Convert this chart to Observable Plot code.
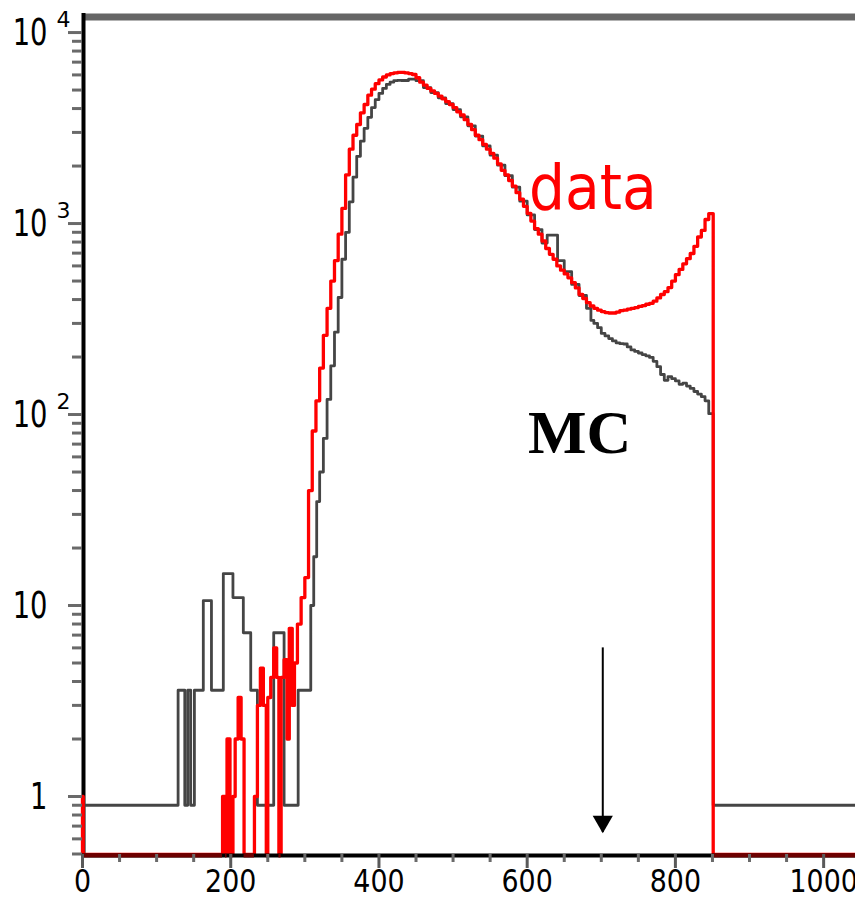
<!DOCTYPE html>
<html><head><meta charset="utf-8">
<script src="https://cdn.jsdelivr.net/npm/d3@7"></script>
<script src="https://cdn.jsdelivr.net/npm/@observablehq/plot@0.6"></script>
<style>body{margin:0;background:#fff;} svg{display:block}</style>
</head><body><div id="chart"></div>
<script>
// ---- data (histogram bin lower edges and contents) ----
const dataEdges = [0,0,1,189,193,195,199,203,206,210,214,218,232,236,240,244,248,250,254,258,262,265,268,272,276,279,283,286,290,
  295,300,305,310,315,320,325,330,335,340,345,350,355,360,365,370,375,380,385,390,395,400,405,410,415,420,425,430,435,440,445,
  450,455,460,465,470,475,480,485,490,495,500,505,510,515,520,525,530,535,540,545,550,555,560,565,570,575,580,585,590,595,
  600,605,610,615,620,625,630,635,640,645,650,655,660,665,670,675,680,685,690,695,700,705,710,715,720,725,730,735,740,745,
  750,755,760,765,770,775,780,785,790,795,800,805,810,815,820,825,830,835,840,845,851,1043];
const dataCounts = [0,1,0,1.0,0,2.0,0,1.0,2.0,3.3,2.0,0,1.0,3.0,4.7,3.0,0,3.3,4.2,6.0,4.2,0,4.2,5.2,2.0,7.6,3.0,5.0,8,
  11,14,40,82,118,175,260,360,500,640,880,1200,1800,2450,2900,3300,3800,4200,4700,5050,5400,5650,5850,6000,6100,6150,6180,6180,6150,6100,6030,
  5800,5500,5300,5100,4950,4800,4650,4500,4350,4200,4050,3850,3700,3500,3300,3100,2900,2750,2600,2450,2330,2200,2050,1900,1800,1680,1570,1450,1340,1230,
  1130,1030,940,880,810,740,690,650,600,570,545,520,490,460,425,405,385,370,360,352,346,342,340,340,344,350,352,356,360,363,
  368,372,378,382,392,408,425,440,462,500,540,575,615,655,697,760,850,920,1050,1128,0,0];

const mcEdges = [0,129,138,142,146,151,163,174,190,203,217,227,236,258,272,291,308,312,316,320,325,330,335,340,345,350,355,360,365,370,
  375,380,385,390,395,400,405,410,415,420,425,430,440,450,460,470,480,490,500,510,520,530,540,550,560,570,580,590,600,610,620,627,641,
  650,660,670,680,686,690,695,700,705,710,715,720,725,730,735,740,745,750,755,760,765,770,775,780,785,790,795,800,805,810,815,820,
  825,830,835,840,845,851,1043];
const mcCounts = [0.9,3.6,0.9,3.6,0.9,3.6,10.6,3.6,14.7,11,7.2,3.6,0.9,7.2,0.9,3.6,10,18,35,50,75,120,180,270,410,650,900,1300,1750,2250,
  2700,3150,3600,4050,4450,4800,5100,5350,5500,5600,5620,5610,5700,5600,5150,4850,4550,4250,3950,3620,3250,2870,2550,2280,2020,1780,1550,1310,1110,930,790,870,640,
  560,480,420,360,311,300,285,266,258,250,243,237,235,234,226,218,214,210,206,203,199,190,178,162,151,158,154,150,144,146,141,137,
  132,128,124,118,101,0.9,0.9];

// ---- axes ----
const xMajorTicks = [0,200,400,600,800,1000];
const xTickLabels = ["0","200","400","600","800","1000"];
const xMinorTicks = [50,100,150,250,300,350,450,500,550,650,700,750,850,900,950];
const yMajorTicks = [1,10,100,1000,10000];
const yTickBase = ["1","10","10","10","10"];
const yTickExp = ["","","2","3","4"];
const yMinorTicks = [0.5,0.6,0.7,0.8,0.9,2,3,4,5,6,7,8,9,20,30,40,50,60,70,80,90,
  200,300,400,500,600,700,800,900,2000,3000,4000,5000,6000,7000,8000,9000];
const xDomain = [0, 1043];
const yDomain = [0.497, 11990];

// ---- annotations ----
const annotationLabels = ["data", "MC"];
const annotationX = [602.6, 601.2];
const annotationY = [1198, 63.2];
const arrowX = [702];
const arrowTop = [6];
const arrowTip = [0.648];

// ---- build tables ----
const floorY = yDomain[0];
const dataPts = dataEdges.map((x, i) => ({x, y: Math.max(dataCounts[i], floorY)}));
const mcPts = mcEdges.map((x, i) => ({x, y: Math.max(mcCounts[i], floorY)}));
const floorSegs = [];
for (let i = 0; i < dataEdges.length - 1; i++) if (dataCounts[i] === 0) floorSegs.push({x1: dataEdges[i], x2: dataEdges[i + 1]});
const yLabels = yMajorTicks.map((v, i) => ({v, base: yTickBase[i], exp: yTickExp[i]}));
const xLabels = xMajorTicks.map((v, i) => ({v, t: xTickLabels[i]}));
const notes = annotationLabels.map((t, i) => ({t, x: annotationX[i], y: annotationY[i]}));
const arrows = arrowX.map((x, i) => ({x, y1: arrowTop[i], y2: arrowTip[i]}));

const chart = Plot.plot({
  width: 855, height: 898,
  marginLeft: 82, marginRight: 0, marginTop: 17, marginBottom: 44,
  style: {fontFamily: "DejaVu Sans", background: "white"},
  x: {domain: xDomain},
  y: {type: "log", domain: yDomain},
  marks: [
    Plot.ruleY([yDomain[1]], {stroke: "#666", strokeWidth: 7, dy: -0.5}),
    Plot.ruleX([xDomain[0]], {stroke: "black", strokeWidth: 4, dx: 1, insetTop: -4, insetBottom: -3}),
    Plot.line(mcPts, {x: "x", y: "y", curve: "step-after", stroke: "#454545", strokeWidth: 2.8}),
    Plot.line(dataPts, {x: "x", y: "y", curve: "step-after", stroke: "#ff0000", strokeWidth: 3.3}),
    Plot.ruleY([floorY], {stroke: "black", strokeWidth: 4, dy: 1}),
    Plot.ruleY(floorSegs, {y: () => floorY, x1: "x1", x2: "x2", stroke: "#6e0000", strokeWidth: 4, dy: 1}),
    Plot.axisY(yMajorTicks, {anchor: "left", tickSize: 14, tickFormat: () => "", stroke: "#6a6a6a", strokeWidth: 3, label: null}),
    Plot.axisY(yMinorTicks, {anchor: "left", tickSize: 10, tickFormat: () => "", stroke: "#6a6a6a", strokeWidth: 3, label: null}),
    Plot.axisX(xMajorTicks, {anchor: "bottom", tickSize: 14, tickFormat: () => "", stroke: "#5a5a5a", strokeWidth: 3, label: null}),
    Plot.axisX(xMinorTicks, {anchor: "bottom", tickSize: 8, tickFormat: () => "", stroke: "#6a6a6a", strokeWidth: 3, label: null}),
    Plot.text(yLabels, {frameAnchor: "left", y: "v", text: "base", textAnchor: "end", lineAnchor: "middle",
      dx: -35, dy: 1, fontSize: 37, fill: "black"}),
    Plot.text(yLabels, {frameAnchor: "left", y: "v", text: "exp", textAnchor: "start", lineAnchor: "middle",
      dx: -26, dy: -13, fontSize: 22, fill: "black"}),
    Plot.text(xLabels, {frameAnchor: "bottom", x: "v", text: "t", textAnchor: "middle", lineAnchor: "bottom",
      dy: 37, fontSize: 32, fill: "black"}),
    Plot.ruleX(arrows, {x: "x", y1: "y1", y2: "y2", stroke: "black", strokeWidth: 2}),
    Plot.dot(arrows, {x: "x", y: "y2", symbol: "triangle", r: 7.5, rotate: 180, fill: "black", stroke: null, dy: -11}),
    Plot.text(notes.slice(0, 1), {x: "x", y: "y", text: "t", textAnchor: "start", lineAnchor: "bottom",
      fontSize: 63, fill: "#ff0000", fontFamily: "'Comic Sans MS', 'DejaVu Sans', sans-serif"}),
    Plot.text(notes.slice(1), {x: "x", y: "y", text: "t", textAnchor: "start", lineAnchor: "bottom",
      fontSize: 62, fontWeight: "bold", fill: "black", fontFamily: "'Liberation Serif', 'Times New Roman', serif"})
  ]
});

// narrow the glyphs horizontally (the reference uses a condensed bitmap-like face)
function squeeze(fontSize, s) {
  chart.querySelectorAll(`g[font-size="${fontSize}"] text`).forEach(t => {
    const tr = t.getAttribute("transform");
    if (tr) {
      t.setAttribute("transform", tr + ` scale(${s},1)`);
    } else {
      const x = +t.getAttribute("x") || 0, y = +t.getAttribute("y") || 0;
      t.removeAttribute("x"); t.removeAttribute("y");
      t.setAttribute("transform", `translate(${x},${y}) scale(${s},1)`);
    }
  });
}
squeeze(37, 0.74);
squeeze(32, 0.84);
squeeze(63, 0.9);

document.getElementById("chart").appendChild(chart);
</script>
</body></html>
